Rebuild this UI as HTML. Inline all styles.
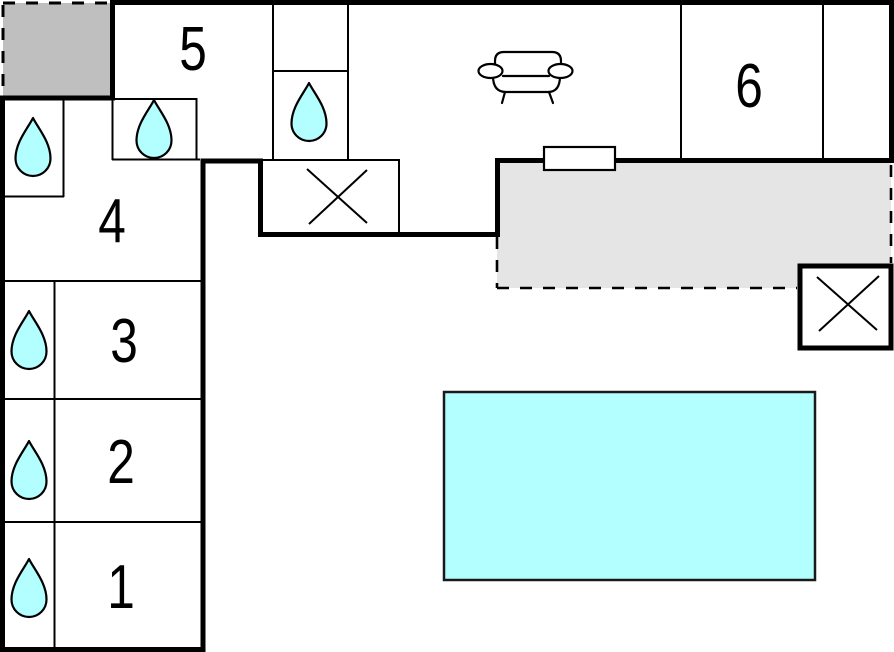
<!DOCTYPE html>
<html>
<head>
<meta charset="utf-8">
<style>
html,body{margin:0;padding:0;background:#fff;}
svg{display:block;}
text{font-family:"Liberation Sans",Arial,sans-serif;}
</style>
</head>
<body>
<svg width="894" height="652" viewBox="0 0 894 652" xmlns="http://www.w3.org/2000/svg">
<defs>
  <path id="drop" d="M0,0 C-5,10 -17.5,24 -17.5,40.5 A17.5,17.5 0 0 0 17.5,40.5 C17.5,24 5,10 0,0 Z" fill="#b3ffff" stroke="#000" stroke-width="2.2" stroke-linejoin="round"/>
</defs>
<rect x="0" y="0" width="894" height="652" fill="#fff"/>

<!-- top-left gray terrace -->
<rect x="3" y="3" width="108" height="94" fill="#bfbfbf"/>
<line x1="3" y1="3" x2="110" y2="3" stroke="#000" stroke-width="3" stroke-dasharray="12,11"/>
<line x1="3" y1="5" x2="3" y2="96" stroke="#000" stroke-width="3" stroke-dasharray="12,11"/>

<!-- light gray terrace right -->
<rect x="497" y="161" width="394" height="127" fill="#e5e5e5"/>
<line x1="497" y1="288" x2="797" y2="288" stroke="#000" stroke-width="2.6" stroke-dasharray="12,11"/>
<line x1="891" y1="165" x2="891" y2="263" stroke="#000" stroke-width="2.6" stroke-dasharray="12,11"/>
<line x1="497" y1="237" x2="497" y2="288" stroke="#000" stroke-width="2.6" stroke-dasharray="12,11"/>

<!-- pool -->
<rect x="444" y="392" width="371" height="188" fill="#b3ffff" stroke="#1a1a1a" stroke-width="2.5"/>

<!-- thin lines -->
<g stroke="#000" stroke-width="2" fill="none">
  <!-- drop box 1 -->
  <line x1="63.5" y1="98" x2="63.5" y2="197"/>
  <line x1="4" y1="196.5" x2="64" y2="196.5"/>
  <!-- drop box 2 -->
  <line x1="112" y1="99" x2="197" y2="99"/>
  <line x1="112.5" y1="98" x2="112.5" y2="160"/>
  <line x1="196.5" y1="98" x2="196.5" y2="160"/>
  <line x1="112" y1="159.5" x2="200" y2="159.5"/>
  <!-- left rooms -->
  <line x1="4" y1="281" x2="202" y2="281"/>
  <line x1="4" y1="399" x2="202" y2="399"/>
  <line x1="4" y1="522" x2="202" y2="522"/>
  <line x1="54.5" y1="281" x2="54.5" y2="648"/>
  <!-- verticals top -->
  <line x1="273" y1="4" x2="273" y2="160"/>
  <line x1="348" y1="4" x2="348" y2="160"/>
  <line x1="273" y1="71" x2="348" y2="71"/>
  <line x1="681" y1="4" x2="681" y2="160"/>
  <line x1="823" y1="4" x2="823" y2="160"/>
  <!-- X box 1 -->
  <line x1="262" y1="160" x2="400" y2="160"/>
  <line x1="399" y1="160" x2="399" y2="234"/>
  <line x1="307" y1="169" x2="367" y2="223"/>
  <line x1="309" y1="224" x2="367" y2="170"/>
</g>

<!-- thick walls -->
<g stroke="#000" stroke-width="5" fill="none" stroke-linecap="square">
  <line x1="113" y1="2.5" x2="892" y2="2.5"/>
  <line x1="112.5" y1="0" x2="112.5" y2="98"/>
  <line x1="2.5" y1="98" x2="112" y2="98"/>
  <line x1="2.5" y1="98" x2="2.5" y2="649"/>
  <line x1="2.5" y1="649.5" x2="203" y2="649.5"/>
  <line x1="203" y1="162" x2="203" y2="649"/>
  <line x1="203" y1="161" x2="260.5" y2="161"/>
  <line x1="260.5" y1="161" x2="260.5" y2="234.5"/>
  <line x1="260.5" y1="234.5" x2="497.5" y2="234.5"/>
  <line x1="497.5" y1="161" x2="497.5" y2="234.5"/>
  <line x1="497.5" y1="160.5" x2="891.5" y2="160.5"/>
  <line x1="891.5" y1="2.5" x2="891.5" y2="160.5"/>
</g>

<!-- X box right -->
<rect x="800" y="266" width="91" height="82" fill="#fff" stroke="#000" stroke-width="5"/>
<line x1="817" y1="277" x2="877" y2="330" stroke="#000" stroke-width="2"/>
<line x1="819" y1="331" x2="879" y2="276" stroke="#000" stroke-width="2"/>

<!-- window -->
<rect x="544" y="147" width="71" height="23" fill="#fff" stroke="#000" stroke-width="2.2"/>

<!-- sofa -->
<g stroke="#000" stroke-width="2.2" fill="#fff" stroke-linecap="round" stroke-linejoin="round">
  <path d="M495,70 L495,61 Q495,52 504,52 L552,52 Q561,52 561,61 L561,70" />
  <path d="M493,76 Q493,92 506,92 L548,92 Q560,92 560,76" />
  <line x1="503" y1="76" x2="549" y2="76"/>
  <ellipse cx="490.5" cy="71" rx="12" ry="7"/>
  <ellipse cx="560.5" cy="71" rx="12" ry="7"/>
  <line x1="505" y1="92" x2="502" y2="103"/>
  <line x1="549" y1="92" x2="553" y2="103"/>
</g>

<!-- drops -->
<use href="#drop" x="33" y="118"/>
<use href="#drop" x="154" y="100"/>
<use href="#drop" x="309" y="83"/>
<use href="#drop" x="29" y="311"/>
<use href="#drop" x="29" y="441"/>
<use href="#drop" x="29" y="559"/>

<!-- numbers -->
<g font-size="62" fill="#000" text-anchor="middle">
  <text transform="translate(193,70) scale(0.8,1)">5</text>
  <text transform="translate(749,107) scale(0.8,1)">6</text>
  <text transform="translate(112,242) scale(0.8,1)">4</text>
  <text transform="translate(124,362) scale(0.8,1)">3</text>
  <text transform="translate(121,483) scale(0.8,1)">2</text>
  <text transform="translate(121,608) scale(0.8,1)">1</text>
</g>
</svg>
</body>
</html>
